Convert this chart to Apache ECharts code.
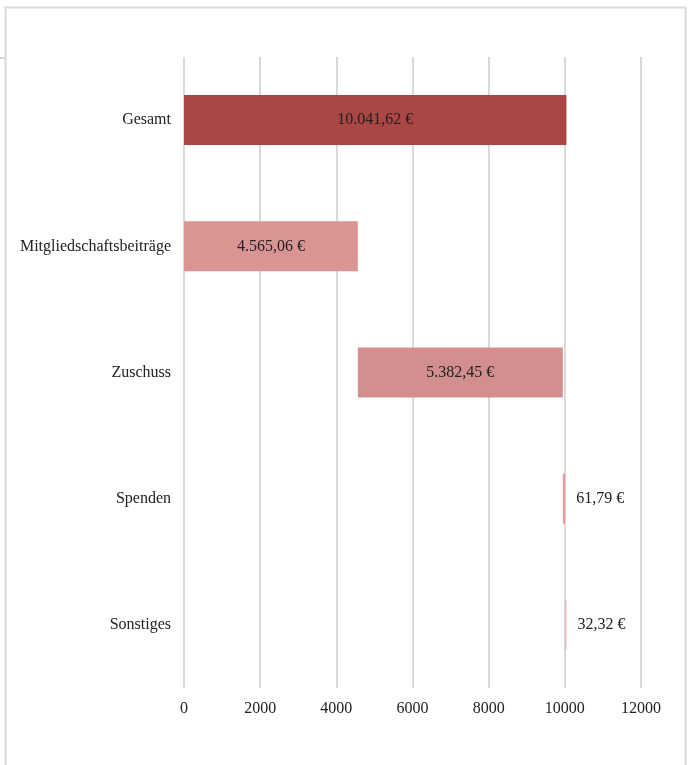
<!DOCTYPE html>
<html>
<head>
<meta charset="utf-8">
<script src="https://cdn.jsdelivr.net/npm/echarts@6/dist/echarts.min.js"></script>
<style>
  html, body { margin: 0; padding: 0; background: #ffffff; }
  #chart { width: 688px; height: 765px; }
</style>
</head>
<body>
<div id="chart"></div>
<script>
// Einnahmen als Wasserfall: Gesamt oben, danach die einzelnen Posten
const categories = ['Gesamt', 'Mitgliedschaftsbeiträge', 'Zuschuss', 'Spenden', 'Sonstiges'];
const values = [10041.62, 4565.06, 5382.45, 61.79, 32.32];
const barColors = ['#a94744', '#d99594', '#d38f8f', '#e0a0a0', '#efb8b8'];
const xTicks = [0, 2000, 4000, 6000, 8000, 10000, 12000];

// Unsichtbarer Sockel: Gesamt beginnt bei 0, die Posten schließen aneinander an
const bases = values.map((v, i) => {
  if (i === 0) return 0;
  let s = 0;
  for (let k = 1; k < i; k++) s += values[k];
  return s;
});

function euro(v) {
  const parts = v.toFixed(2).split('.');
  const int = parts[0].replace(/\B(?=(\d{3})+(?!\d))/g, '.');
  return int + ',' + parts[1] + ' €';
}

const font = '"Liberation Serif", "DejaVu Serif", serif';

const chart = echarts.init(document.getElementById('chart'), null, { renderer: 'canvas' });
chart.setOption({
  animation: false,
  backgroundColor: '#ffffff',
  graphic: [
    {
      type: 'polyline',
      shape: { points: [[5.5, 770], [5.5, 7.5], [685.5, 7.5], [685.5, 770]] },
      style: { stroke: '#d9d9d9', lineWidth: 2, fill: null }
    },
    {
      type: 'line',
      shape: { x1: 0, y1: 58, x2: 5, y2: 58 },
      style: { stroke: '#d9d9d9', lineWidth: 2 }
    }
  ],
  grid: { left: 184, right: 47, top: 57, bottom: 77, containLabel: false },
  xAxis: {
    type: 'value',
    min: xTicks[0],
    max: xTicks[xTicks.length - 1],
    interval: 2000,
    axisLine: { show: false },
    axisTick: { show: false },
    splitLine: { show: true, lineStyle: { color: '#d9d9d9', width: 2 } },
    axisLabel: { fontFamily: font, fontSize: 16, color: '#222', margin: 13, formatter: v => String(v) }
  },
  yAxis: {
    type: 'category',
    inverse: true,
    data: categories,
    axisLine: { show: false },
    axisTick: { show: false },
    axisLabel: { fontFamily: font, fontSize: 16, color: '#222', margin: 13 }
  },
  series: [
    {
      type: 'bar',
      stack: 'wf',
      silent: true,
      barWidth: 50,
      itemStyle: { color: 'transparent' },
      data: bases
    },
    {
      type: 'bar',
      stack: 'wf',
      barWidth: 50,
      data: values.map((v, i) => ({
        value: v,
        itemStyle: { color: barColors[i] },
        label: i >= 3 ? { position: 'right', distance: 11 } : { position: 'inside' }
      })),
      label: {
        show: true,
        fontFamily: font,
        fontSize: 16,
        color: '#222',
        formatter: p => euro(p.value)
      }
    }
  ]
});
</script>
</body>
</html>
